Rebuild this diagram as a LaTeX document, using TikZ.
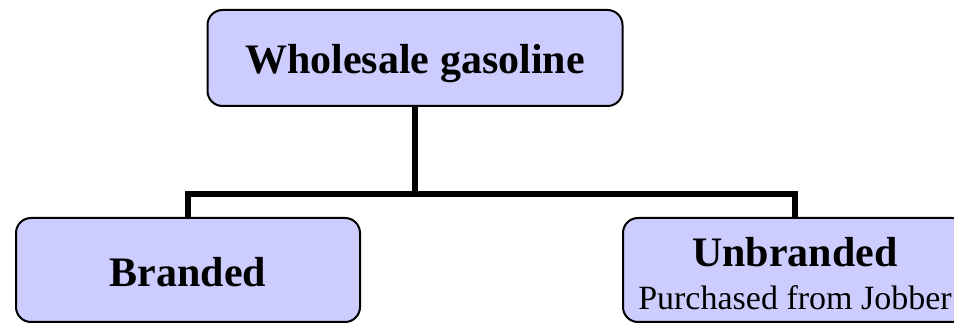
\documentclass[tikz,border=0pt]{standalone}
\usepackage{fontspec}
\setmainfont{Liberation Serif}
\definecolor{boxfill}{HTML}{CCCCFF}
\tikzset{
  box/.style={draw=black, line width=2pt, fill=boxfill, rounded corners=15pt, inner sep=0pt},
  conn/.style={draw=black, line width=6pt},
  bigtxt/.style={font=\fontsize{42}{46}\selectfont\bfseries, anchor=base, inner sep=0pt},
  smalltxt/.style={font=\fontsize{34}{38}\selectfont, anchor=base, inner sep=0pt}
}
\begin{document}
\begin{tikzpicture}[x=1pt,y=-1pt]
\useasboundingbox (0,0) rectangle (954,323);
\clip (0,0) rectangle (954,323);
\node[box, minimum width=415pt, minimum height=96pt] (top) at (415,58) {};
\node[bigtxt] (topt) at (415,74) {Wholesale gasoline};
\node[box, minimum width=344pt, minimum height=104pt] (br) at (188,270) {};
\node[bigtxt] (brt) at (188,287) {Branded};
\node[box, minimum width=344pt, minimum height=104pt] (ub) at (795,270) {};
\node[bigtxt] (ubt) at (795,267) {Unbranded};
\node[smalltxt] (ubs) at (795,310) {Purchased from Jobber};
\coordinate (j) at (415,194);
\draw[conn] (top.south) -- (j);
\draw[conn] (br.north) |- (j) -| (ub.north);
\end{tikzpicture}
\end{document}
